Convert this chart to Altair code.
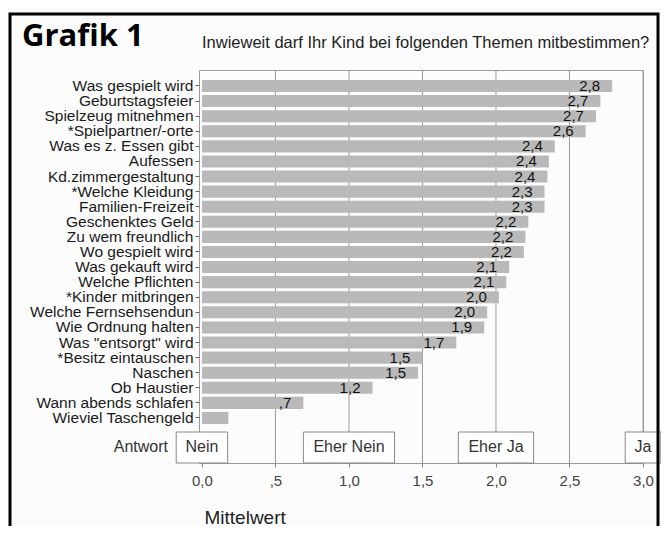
import altair as alt
import pandas as pd

categories = [
    "Was gespielt wird", "Geburtstagsfeier", "Spielzeug mitnehmen", "*Spielpartner/-orte",
    "Was es z. Essen gibt", "Aufessen", "Kd.zimmergestaltung", "*Welche Kleidung",
    "Familien-Freizeit", "Geschenktes Geld", "Zu wem freundlich", "Wo gespielt wird",
    "Was gekauft wird", "Welche Pflichten", "*Kinder mitbringen", "Welche Fernsehsendun",
    "Wie Ordnung halten", "Was \"entsorgt\" wird", "*Besitz eintauschen", "Naschen",
    "Ob Haustier", "Wann abends schlafen", "Wieviel Taschengeld",
]
values = [2.79, 2.71, 2.68, 2.61, 2.40, 2.36, 2.35, 2.33, 2.33, 2.22, 2.20, 2.19,
          2.09, 2.07, 2.02, 1.94, 1.92, 1.73, 1.50, 1.47, 1.16, 0.69, 0.18]
value_labels = ["2,8", "2,7", "2,7", "2,6", "2,4", "2,4", "2,4", "2,3", "2,3", "2,2", "2,2", "2,2",
                "2,1", "2,1", "2,0", "2,0", "1,9", "1,7", "1,5", "1,5", "1,2", ",7", ""]

answers = ["Nein", "Eher Nein", "Eher Ja", "Ja"]
answer_values = [0.0, 1.0, 2.0, 3.0]

tick_values = [0.0, 0.5, 1.0, 1.5, 2.0, 2.5, 3.0]
tick_labels = ["0,0", ",5", "1,0", "1,5", "2,0", "2,5", "3,0"]
grid_values = [0.5, 1.0, 1.5, 2.0, 2.5, 3.0]

title_text = "Grafik 1"
subtitle_text = "Inwieweit darf Ihr Kind bei folgenden Themen mitbestimmen?"
x_title = "Mittelwert"
answer_title = "Antwort"

FONT = "Liberation Sans"

bars_df = pd.DataFrame({"thema": categories, "wert": values, "label": value_labels})
ans_df = pd.DataFrame({"antwort": answers, "pos": answer_values})
grid_df = pd.DataFrame({"g": grid_values})

label_expr = "''"
for v, l in reversed(list(zip(tick_values, tick_labels))):
    label_expr = f"abs(datum.value - {v}) < 0.01 ? '{l}' : ({label_expr})"

xscale = alt.Scale(domain=[-0.02, 3.0], nice=False, zero=False)

x_enc = alt.X(
    "wert:Q", scale=xscale,
    axis=alt.Axis(
        values=tick_values, labelExpr=label_expr, grid=False, domain=False,
        labelFlush=False, labelOverlap=False,
        tickSize=4, tickColor="#888", labelFont=FONT, labelFontSize=15,
        labelColor="#444", labelPadding=6,
        title=x_title, titleX=5, titleY=54, titleAlign="left", titleBaseline="middle",
        titleFont=FONT, titleFontSize=19, titleFontWeight="normal", titleColor="#222",
    ),
)
y_enc = alt.Y(
    "thema:N", sort=categories,
    scale=alt.Scale(range=[8.45, 355.5], paddingInner=0.2, paddingOuter=0.1),
    axis=alt.Axis(title=None, labelFont=FONT, labelFontSize=15.5, labelColor="#1a1a1a",
                  tickSize=4, tickColor="#666", labelPadding=2, domain=False, labelLimit=300),
)

grid = alt.Chart(grid_df).mark_rule(color="#9a9a9a", strokeWidth=1).encode(
    x=alt.X("g:Q", scale=xscale)
)

bars = alt.Chart(bars_df).mark_bar(color="#b9b9b9").encode(x=x_enc, y=y_enc)

texts = alt.Chart(bars_df).mark_text(
    align="right", baseline="middle", dx=-12, font=FONT, fontSize=15, color="#111"
).encode(x=alt.X("wert:Q", scale=xscale), y=alt.Y("thema:N", sort=categories), text="label:N")

boxes = alt.Chart(ans_df).transform_calculate(
    hw="0.027*length(datum.antwort)+0.067"
).transform_calculate(
    x1="datum.pos - datum.hw", x2="datum.pos + datum.hw"
).mark_rect(fill="#ffffff", stroke="#888", strokeWidth=1).encode(
    x=alt.X("x1:Q", scale=xscale), x2="x2:Q", y=alt.value(362), y2=alt.value(393)
)

box_text = alt.Chart(ans_df).mark_text(
    font=FONT, fontSize=16, color="#333", baseline="middle"
).encode(x=alt.X("pos:Q", scale=xscale), y=alt.value(377), text="antwort:N")

antwort = alt.Chart(pd.DataFrame({"t": [answer_title]})).mark_text(
    font=FONT, fontSize=16, color="#333", align="right", baseline="middle"
).encode(x=alt.value(-31), y=alt.value(377), text="t:N")

title = alt.Chart(pd.DataFrame({"t": [title_text]})).mark_text(
    font="Open Sans", fontSize=31, fontWeight="bold", color="#000", align="left", baseline="alphabetic"
).encode(x=alt.value(-177), y=alt.value(-24), text="t:N")

subtitle = alt.Chart(pd.DataFrame({"t": [subtitle_text]})).mark_text(
    font=FONT, fontSize=16.5, color="#222", align="left", baseline="middle"
).encode(x=alt.value(3), y=alt.value(-27), text="t:N")

frame = alt.Chart(pd.DataFrame({"t": [1]})).mark_rect(
    fill="transparent", stroke="#000", strokeWidth=3
).encode(x=alt.value(-189), x2=alt.value(459), y=alt.value(-56), y2=alt.value(480))

chart = alt.layer(grid, bars, texts, boxes, box_text, antwort, title, subtitle, frame).properties(
    width=444, height=393,
    autosize=alt.AutoSizeParams(type="none"),
    padding={"left": 191, "top": 62, "right": 18, "bottom": 63},
    background="#fcfcfc",
).configure_view(stroke="#999", strokeWidth=1)

chart.save("out.html", embed_options={"renderer": "svg", "actions": False})
